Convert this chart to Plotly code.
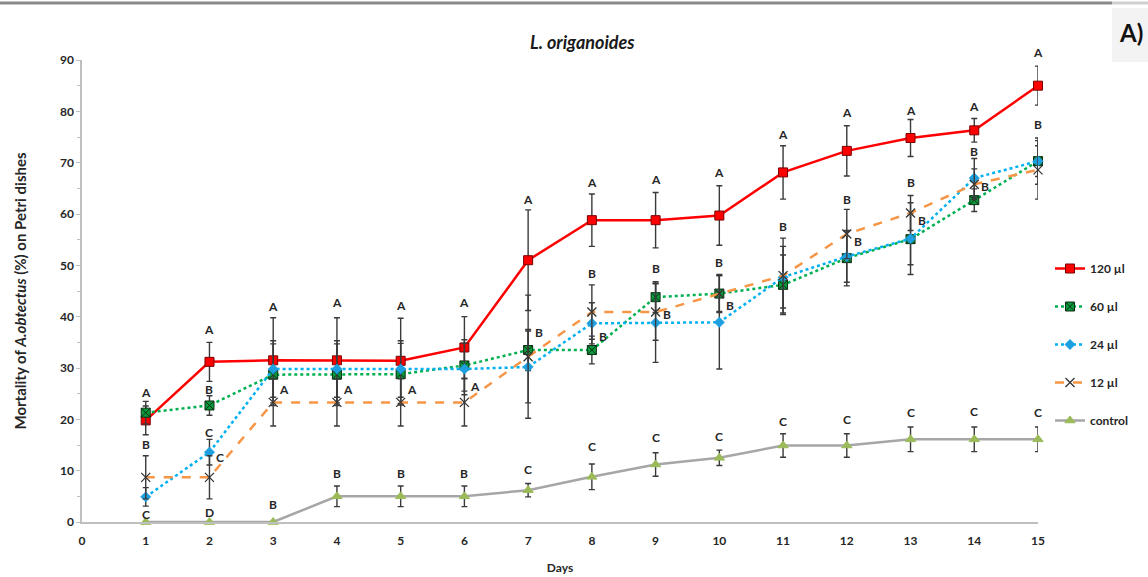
import plotly.graph_objects as go

# ---------------- data ----------------
days = list(range(1, 16))

r120 = [19.8, 31.2, 31.5, 31.5, 31.4, 34.0, 51.0, 58.8, 58.8, 59.7, 68.1, 72.3, 74.8, 76.3, 85.0]
r120_err = [2.8, 3.8, 8.3, 8.3, 8.3, 6.0, 9.8, 5.1, 5.4, 5.8, 5.2, 4.9, 3.6, 2.3, 3.8]

g60 = [21.3, 22.7, 28.7, 28.7, 28.8, 30.5, 33.5, 33.5, 43.8, 44.5, 46.2, 51.4, 55.1, 62.7, 70.3]
g60_err = [2.2, 1.9, 6.0, 6.0, 6.0, 5.0, 4.0, 2.7, 3.0, 3.5, 5.8, 5.4, 5.0, 2.2, 3.0]

b24 = [4.9, 13.6, 29.8, 29.8, 29.8, 29.8, 30.2, 38.7, 38.8, 38.9, 47.7, 51.7, 55.2, 67.0, 70.3]
b24_err = [1.8, 2.5, 5.5, 5.5, 5.5, 5.0, 7.0, 4.0, 7.7, 9.1, 6.0, 5.0, 7.0, 3.8, 4.5]

o12 = [8.7, 8.7, 23.3, 23.3, 23.3, 23.3, 32.2, 40.9, 40.9, 44.5, 48.0, 56.1, 60.2, 65.8, 68.6]
o12_err = [4.2, 4.2, 4.6, 4.6, 4.6, 4.6, 12.0, 5.3, 5.5, 3.7, 7.3, 4.8, 3.4, 3.0, 5.7]

ctrl = [0, 0, 0, 5.0, 5.0, 5.0, 6.2, 8.8, 11.2, 12.5, 14.9, 14.9, 16.1, 16.1, 16.1]
ctrl_err = [0, 0, 0, 2.0, 2.0, 2.0, 1.3, 2.5, 2.3, 1.5, 2.3, 2.3, 2.4, 2.4, 2.4]

series_names = ["120 µl", "60 µl", "24 µl", "12 µl", "control"]

# significance letters: day, value level, letter, placed to the right (1) or centred (0)
letter_day = [1, 1, 1,
              2, 2, 2, 2, 2,
              3, 3, 3,
              4, 4, 4,
              5, 5, 5,
              6, 6, 6,
              7, 7, 7,
              8, 8, 8, 8,
              9, 9, 9, 9,
              10, 10, 10, 10,
              11, 11, 11,
              12, 12, 12, 12,
              13, 13, 13, 13,
              14, 14, 14, 14,
              15, 15, 15]
letter_y = [25.2, 15.1, 1.5,
            37.5, 25.8, 17.5, 12.5, 1.9,
            42.0, 25.8, 3.4,
            42.7, 25.8, 9.4,
            42.2, 25.8, 9.4,
            42.8, 26.4, 9.4,
            62.8, 37.0, 10.2,
            66.2, 48.4, 36.2, 14.8,
            66.7, 49.4, 40.4, 16.4,
            68.0, 50.6, 42.2, 16.7,
            75.4, 57.5, 19.6,
            79.7, 62.8, 54.7, 20.0,
            80.2, 66.2, 58.8, 21.3,
            81.0, 72.2, 65.4, 21.6,
            91.4, 77.4, 21.3]
letter_text = ["A", "B", "C",
               "A", "B", "C", "C", "D",
               "A", "A", "B",
               "A", "A", "B",
               "A", "A", "B",
               "A", "A", "B",
               "A", "B", "C",
               "A", "B", "B", "C",
               "A", "B", "B", "C",
               "A", "B", "B", "C",
               "A", "B", "C",
               "A", "B", "B", "C",
               "A", "B", "B", "C",
               "A", "B", "B", "C",
               "A", "B", "C"]
letter_side = [0, 0, 0,
               0, 0, 0, 1, 0,
               0, 1, 0,
               0, 1, 0,
               0, 1, 0,
               0, 1, 0,
               0, 1, 0,
               0, 0, 1, 0,
               0, 0, 1, 0,
               0, 0, 1, 0,
               0, 0, 0,
               0, 0, 1, 0,
               0, 0, 1, 0,
               0, 0, 1, 0,
               0, 0, 0]

# ---------------- layout geometry ----------------
W, H = 1148, 577
L, R, T, B = 82, 110, 60, 55
PW, PH = W - L - R, H - T - B
Y_MAX = 90
PX_PER_UNIT = PH / Y_MAX


def px(x):
    return (x - L) / PW


def py(y):
    return (H - B - y) / PH


FONT = "Lato, 'Open Sans', sans-serif"
ERR = dict(type="data", visible=True, color="#3a3a3a", thickness=1.4, width=3)

styles = [
    dict(line=dict(color="#ff0000", width=2.5, dash="solid"),
         marker=dict(symbol="square", size=9, color="#ff0000", line=dict(color="#7a0000", width=1))),
    dict(line=dict(color="#00b050", width=2.5, dash="dot"),
         marker=dict(symbol="square-x", size=9, color="#0a9a3c", line=dict(color="#0b2e12", width=1))),
    dict(line=dict(color="#00b0f0", width=2.5, dash="dot"),
         marker=dict(symbol="diamond", size=8, color="#1e9fe0", line=dict(color="#1e9fe0", width=0.5))),
    dict(line=dict(color="#f79646", width=2.5, dash="dash"),
         marker=dict(symbol="x-thin", size=9, color="#333333", line=dict(color="#333333", width=1.3))),
    dict(line=dict(color="#a6a6a6", width=2.5, dash="solid"),
         marker=dict(symbol="triangle-up", size=9, color="#9bbb59", line=dict(color="#9bbb59", width=1))),
]

values = [r120, g60, b24, o12, ctrl]
errors = [r120_err, g60_err, b24_err, o12_err, ctrl_err]

fig = go.Figure()
for i, (name, v, e, st) in enumerate(zip(series_names, values, errors, styles)):
    fig.add_trace(go.Scatter(
        x=days, y=v, name=name, mode="lines+markers",
        line=st["line"], marker=st["marker"],
        error_y=dict(array=e, **ERR),
        legendgroup=f"g{i}", cliponaxis=False,
    ))

annotations = []
for d, yv, t, s in zip(letter_day, letter_y, letter_text, letter_side):
    yin = min(yv, Y_MAX)
    annotations.append(dict(
        x=d, y=yin, xref="x", yref="y", text=t, showarrow=False,
        xshift=11 if s else 0, yshift=(yv - yin) * PX_PER_UNIT,
        font=dict(family=FONT, size=12, color="#262626", weight="bold"),
        xanchor="center", yanchor="middle",
    ))

annotations.append(dict(
    x=px(582), y=py(42), xref="paper", yref="paper",
    text="<b><i>L. origanoides</i></b>", showarrow=False,
    font=dict(family=FONT, size=18, color="#1a1a1a"), xanchor="center", yanchor="middle"))
annotations.append(dict(
    x=px(1131), y=py(32), xref="paper", yref="paper",
    text="<b>A)</b>", showarrow=False,
    font=dict(family=FONT, size=24, color="#111111"), xanchor="center", yanchor="middle"))

shapes = [
    dict(type="rect", xref="paper", yref="paper", x0=px(1112), x1=px(1148), y0=py(62), y1=py(8),
         fillcolor="#f3f3f3", line=dict(width=0), layer="below"),
    dict(type="line", xref="paper", yref="paper", x0=px(0), x1=px(1112), y0=py(3), y1=py(3),
         line=dict(color="#8a8a8a", width=3)),
    dict(type="line", xref="paper", yref="paper", x0=px(1112), x1=px(1148), y0=py(3), y1=py(3),
         line=dict(color="#cfcfcf", width=3)),
]

fig.update_layout(
    width=W, height=H,
    margin=dict(l=L, r=R, t=T, b=B, pad=0, autoexpand=False),
    paper_bgcolor="white", plot_bgcolor="white",
    font=dict(family=FONT, size=12, color="#262626"),
    showlegend=True,
    legend=dict(x=px(1050), y=py(254), xanchor="left", yanchor="top",
                font=dict(family=FONT, size=12, color="#262626", weight="bold"),
                tracegroupgap=19, itemwidth=30, bgcolor="rgba(0,0,0,0)"),
    annotations=annotations,
    shapes=shapes,
    xaxis=dict(range=[0, 15], dtick=1, tick0=0, showgrid=False, zeroline=False, automargin=False,
               showline=True, linecolor="#bfbfbf", linewidth=2, ticks="", ticklabelstandoff=7,
               tickfont=dict(family=FONT, size=12, color="#262626", weight="bold"),
               title=dict(text="<b>Days</b>", font=dict(family=FONT, size=12, color="#262626"), standoff=16)),
    yaxis=dict(range=[0, Y_MAX], dtick=10, showgrid=False, zeroline=False, automargin=False,
               showline=True, linecolor="#bfbfbf", linewidth=1.5,
               ticks="outside", ticklen=4, tickcolor="#bfbfbf",
               minor=dict(dtick=5, ticks="outside", ticklen=3, tickcolor="#bfbfbf"),
               tickfont=dict(family=FONT, size=12, color="#262626", weight="bold"),
               title=dict(text="<b>Mortality of <i>A.obtectus</i> (%) on Petri dishes</b>",
                          font=dict(family=FONT, size=15, color="#262626"), standoff=30)),
)

fig.write_html("out.html",
               config={"displayModeBar": False},
               post_script="document.body.style.margin='0';document.body.style.overflow='hidden';")
